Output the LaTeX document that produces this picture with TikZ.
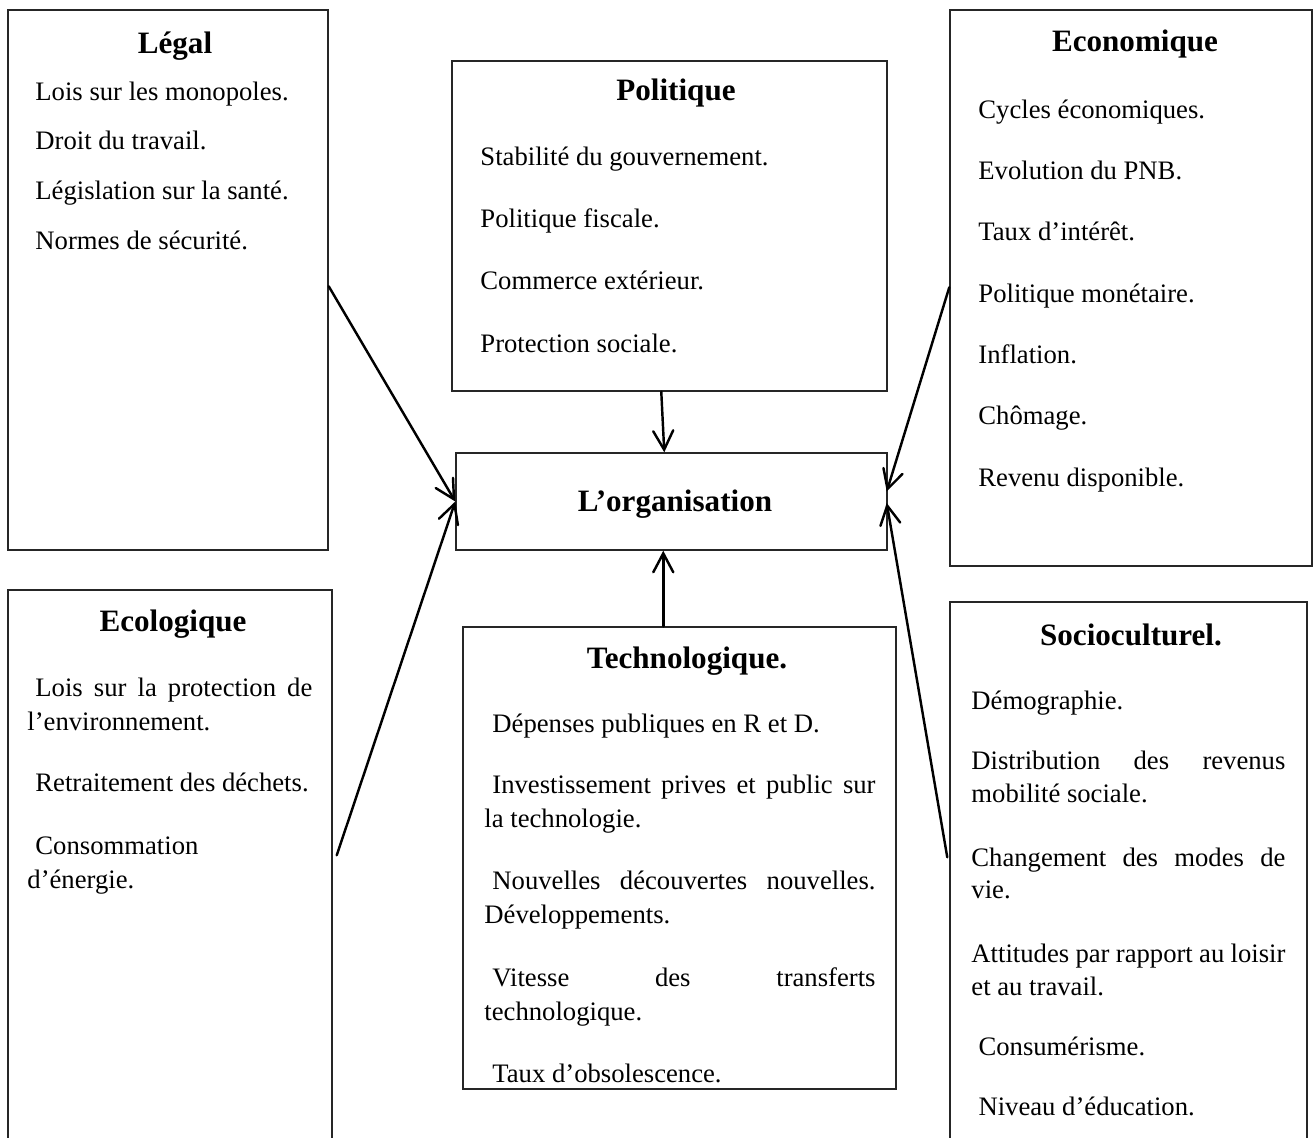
\documentclass[tikz,border=0pt]{standalone}
\usepackage{fontspec}
\setmainfont{Liberation Serif}
\usetikzlibrary{arrows.meta,calc,fit}

\begin{document}
\begin{tikzpicture}[x=0.45pt,y=-0.45pt,
  frame/.style={draw=black!85, line width=0.65pt, rectangle, inner sep=0pt},
  heading/.style={font=\fontsize{14}{17}\selectfont\bfseries, anchor=base, inner sep=0pt},
  items/.style={anchor=base west, inner sep=0pt, text width=#1,
    execute at begin node={\spaceskip=0pt\xspaceskip=0pt}},
  link/.style={line width=1.1pt, line cap=round, -{Straight Barb[length=8.5pt,width=9pt,line cap=round]}}
]
\path[use as bounding box] (0,0) rectangle (1315,1137);
\fill[white] (0,0) rectangle (1315,1137);
\clip (0,0) rectangle (1315,1137);

% ---------- frames ----------
\node[frame, fit={(8,10) (328,550)}]    (legal) {};
\node[frame, fit={(452,61) (887,391)}]  (polit) {};
\node[frame, fit={(950,10) (1312,566)}] (eco)   {};
\node[frame, fit={(456,453) (887,550)}] (org)   {};
\node[frame, fit={(8,590) (332,1160)}]  (ecol)  {};
\node[frame, fit={(463,627) (896,1089)}] (tech) {};
\node[frame, fit={(950,602) (1307,1160)}] (socio) {};

% ---------- headings ----------
\node[heading] (legal-h) at (175,53)  {Légal};
\node[heading] (polit-h) at (676,100) {Politique};
\node[heading] (eco-h)   at (1135,51) {Economique};
\node[heading] (org-h)   at (675,511) {L’organisation};
\node[heading] (ecol-h)  at (173,631) {Ecologique};
\node[heading] (tech-h)  at (687,668) {Technologique.};
\node[heading] (socio-h) at (1131,645) {Socioculturel.};

% ---------- item lists ----------
\node[items=140pt, font=\fontsize{12}{22.4}\selectfont] (legal-l) at (35,100)
  {Lois sur les monopoles.\\
   Droit du travail.\\
   Législation sur la santé.\\
   Normes de sécurité.};

\node[items=180pt, font=\fontsize{12}{28.1}\selectfont] (polit-l) at (480,165)
  {Stabilité du gouvernement.\\
   Politique fiscale.\\
   Commerce extérieur.\\
   Protection sociale.};

\node[items=150pt, font=\fontsize{12}{27.6}\selectfont] (eco-l) at (978,118)
  {Cycles économiques.\\
   Evolution du PNB.\\
   Taux d’intérêt.\\
   Politique monétaire.\\
   Inflation.\\
   Chômage.\\
   Revenu disponible.};

\node[items=128.3pt, font=\fontsize{12}{15.3}\selectfont] (ecol-l) at (27,696)
  {\hspace*{3.6pt}\makebox[124.6pt][s]{Lois sur la protection de}\\
   l’environnement.\\[12.2pt]
   \hspace*{3.6pt}Retraitement des déchets.\\[13.2pt]
   \hspace*{3.6pt}Consommation\\
   d’énergie.};

\node[items=176pt, font=\fontsize{12}{15.3}\selectfont] (tech-l) at (484,732)
  {\hspace*{3.6pt}Dépenses publiques en R et D.\\[12.2pt]
   \hspace*{3.6pt}\makebox[172.4pt][s]{Investissement prives et public sur}\\
   la technologie.\\[12.6pt]
   \hspace*{3.6pt}\makebox[172.4pt][s]{Nouvelles découvertes nouvelles.}\\
   Développements.\\[13.3pt]
   \hspace*{3.6pt}\makebox[172.4pt][s]{Vitesse des transferts}\\
   technologique.\\[12.4pt]
   \hspace*{3.6pt}Taux d’obsolescence.};

\node[items=141.3pt, font=\fontsize{12}{14.6}\selectfont] (socio-l) at (971,709)
  {Démographie.\\[12.8pt]
   \makebox[141.3pt][s]{Distribution des revenus}\\
   mobilité sociale.\\[14.2pt]
   \makebox[141.3pt][s]{Changement des modes de}\\
   vie.\\[14.2pt]
   \makebox[141.3pt][s]{Attitudes par rapport au loisir}\\
   et au travail.\\[12.6pt]
   \hspace*{3.2pt}Consumérisme.\\[12.2pt]
   \hspace*{3.2pt}Niveau d’éducation.};

% ---------- connector end points on the frames ----------
\coordinate (legal-out) at ($(legal.north east)+(0,277)$);
\coordinate (eco-out)   at ($(eco.north west)+(0,278)$);
\coordinate (ecol-out)  at ($(ecol.north east)+(4,266)$);
\coordinate (socio-out) at ($(socio.north west)+(-2,256)$);
\coordinate (polit-out) at ($(polit.south west)+(210,0)$);
\coordinate (tech-out)  at ($(tech.north west)+(201,0)$);
\coordinate (org-top)   at ($(org.north west)+(209,0)$);
\coordinate (org-bot)   at ($(org.south west)+(208,0)$);
\coordinate (org-ehi)   at ($(org.east)+(-1,-10)$);
\coordinate (org-elo)   at ($(org.east)+(-1,1.5)$);

% ---------- connectors ----------
\draw[link] (legal-out) -- (org.west);
\draw[link] (ecol-out)  -- (org.west);
\draw[link] (polit-out) -- (org-top);
\draw[link] (tech-out)  -- (org-bot);
\draw[link] (eco-out)   -- (org-ehi);
\draw[link] (socio-out) -- (org-elo);
\end{tikzpicture}
\end{document}
